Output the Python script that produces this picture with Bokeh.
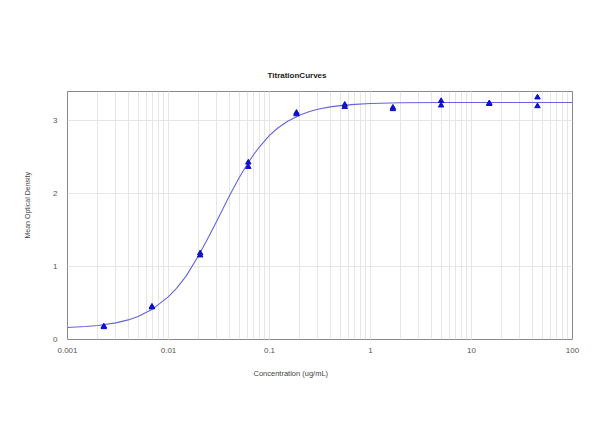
from bokeh.plotting import figure
from bokeh.models import Range1d, LogTicker, FixedTicker, CustomJSTickFormatter, Title
from bokeh.embed import file_html
from bokeh.resources import INLINE

# Measured points (two replicates per concentration)
conc = [0.00229, 0.00686, 0.0206, 0.0617, 0.185, 0.556, 1.667, 5.0, 15.0, 45.0]
od_rep1 = [0.18, 0.45, 1.15, 2.36, 3.08, 3.18, 3.15, 3.20, 3.22, 3.19]
od_rep2 = [0.17, 0.44, 1.18, 2.42, 3.10, 3.21, 3.17, 3.26, 3.23, 3.31]

# Fitted curve
curve_x = [0.001, 0.0015, 0.002, 0.003, 0.004, 0.005, 0.007, 0.01, 0.012, 0.015, 0.02,
           0.025, 0.03, 0.04, 0.05, 0.06, 0.07, 0.08, 0.1, 0.12, 0.15, 0.2,
           0.25, 0.3, 0.4, 0.5, 0.7, 1.0, 2.0, 5.0, 100.0]
curve_y = [0.164, 0.177, 0.191, 0.227, 0.268, 0.315, 0.418, 0.587, 0.70, 0.87, 1.156,
           1.403, 1.618, 1.96, 2.21, 2.393, 2.532, 2.637, 2.789, 2.888, 2.98, 3.069,
           3.117, 3.147, 3.18, 3.197, 3.214, 3.226, 3.236, 3.239, 3.24]

y_ticks = [0, 1, 2, 3]

FONT = "Liberation Sans"

p = figure(width=592, height=439, x_axis_type="log",
           x_range=Range1d(0.001, 100), y_range=Range1d(0, 3.39),
           output_backend="svg", toolbar_location=None,
           min_border_left=67, min_border_right=20, min_border_top=91, min_border_bottom=100)
p.background_fill_color = "white"
p.border_fill_color = "white"
p.outline_line_color = "#8a8a8a"
p.outline_line_width = 1

p.title.text = "TitrationCurves"
p.title.align = "left"
p.title.offset = 200
p.title.standoff = 24
p.title.text_font = FONT
p.title.text_font_size = "8px"
p.title.text_font_style = "bold"
p.title.text_color = "#222222"

p.xaxis.ticker = LogTicker(num_minor_ticks=10)
p.xaxis.formatter = CustomJSTickFormatter(code="return Number(tick.toPrecision(3)).toString();")
p.yaxis.ticker = FixedTicker(ticks=y_ticks)

for ax in (p.xaxis[0], p.yaxis[0]):
    ax.axis_line_color = None
    ax.major_tick_line_color = None
    ax.minor_tick_line_color = None
    ax.major_label_text_font = FONT
    ax.major_label_text_font_size = "8px"
    ax.major_label_text_color = "#555555"
p.xaxis.major_label_standoff = 2
p.yaxis.major_label_standoff = 4

p.xgrid.grid_line_color = "#e6e6e6"
p.xgrid.minor_grid_line_color = "#e6e6e6"
p.ygrid.grid_line_color = "#e6e6e6"

p.line(curve_x, curve_y, line_color="#6464dc", line_width=1.1)
p.scatter(conc, od_rep1, marker="triangle", size=5.5, fill_color="#1010c8", line_color="#1010c8")
p.scatter(conc, od_rep2, marker="triangle", size=5.5, fill_color="#1010c8", line_color="#1010c8")

p.add_layout(Title(text="Concentration (ug/mL)", align="left", offset=186, standoff=23,
                   text_font=FONT, text_font_size="7.5px", text_font_style="normal",
                   text_color="#444444"), "below")
p.add_layout(Title(text="Mean Optical Density", align="left", offset=101, standoff=39,
                   text_font=FONT, text_font_size="7px", text_font_style="normal",
                   text_color="#444444"), "left")

open("out.html", "w").write(file_html(p, INLINE))
